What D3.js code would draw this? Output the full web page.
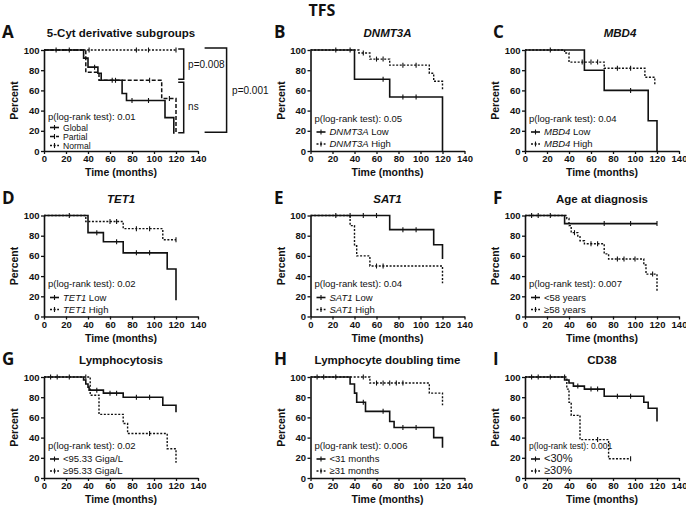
<!DOCTYPE html>
<html><head><meta charset="utf-8">
<script src="https://cdn.jsdelivr.net/npm/d3@7"></script>
<style>
body{margin:0;background:#fff}
text{font-family:"Liberation Sans",Arial,sans-serif;fill:#111}
</style>
</head><body>
<svg id="chart" width="686" height="507"></svg>
<script>
// ---------- DATA ----------
const xTicks = [0,20,40,60,80,100,120,140];
const yTicks = [0,20,40,60,80,100];
const panelLetters = ["A","B","C","D","E","F","G","H","I"];
const panelTitles = ["5-Cyt derivative subgroups","DNMT3A","MBD4","TET1","SAT1","Age at diagnosis","Lymphocytosis","Lymphocyte doubling time","CD38"];
const titleItalic = [false,true,true,true,true,false,false,false,false];
const pValues = ["0.01","0.05","0.04","0.02","0.04","0.007","0.02","0.006","0.001"];
const legendA = [["","Global"],["","Partial"],["","Normal"]];
const legendB = [["DNMT3A"," Low"],["DNMT3A"," High"]];
const legendC = [["MBD4"," Low"],["MBD4"," High"]];
const legendD = [["TET1"," Low"],["TET1"," High"]];
const legendE = [["SAT1"," Low"],["SAT1"," High"]];
const legendF = [["","<58 years"],["","\u226558 years"]];
const legendG = [["","<95.33 Giga/L"],["","\u226595.33 Giga/L"]];
const legendH = [["","<31 months"],["","\u226531 months"]];
const legendI = [["","<30%"],["","\u226530%"]];

// Kaplan-Meier steps: [time (months), percent]; censor times
const aGlobal = [[0,100],[36,92],[40,83],[49,77],[52,70],[71,57],[75,50],[110,33],[118,17]];
const aGlobalCens = [46,62,80,95];
const aPartial = [[0,100],[38,78],[50,70],[107,52],[120,17]];
const aPartialCens = [65,96,114];
const aNormal = [[0,100],[120,100]];
const aNormalCens = [11,23,41,84,95,120];

const bLow = [[0,100],[40,71],[72,53.5],[120,0]];
const bLowCens = [23,36,66,84,96];
const bHigh = [[0,100],[44,97],[54,91],[72,85],[108,77],[112,69],[120,61]];
const bHighCens = [48,60,66,84,96];

const cLow = [[0,100],[54,80],[72,60],[112,30],[120,0]];
const cLowCens = [23,96];
const cHigh = [[0,100],[36,97],[40,88],[72,82],[109,73],[118,66]];
const cHighCens = [52,60,66,84,96];

const dLow = [[0,100],[40,83],[54,74],[72,63],[112,47],[120,16]];
const dLowCens = [23,48,66,84,96];
const dHigh = [[0,100],[38,94],[72,87],[108,76],[120,76]];
const dHighCens = [60,66,84,96,120];

const eLow = [[0,100],[72,86],[112,71],[120,57]];
const eLowCens = [23,36,48,60,84,96];
const eHigh = [[0,100],[36,90],[40,70],[42,60],[54,50],[120,33]];
const eHighCens = [60,66];

const fYoung = [[0,100],[36,92],[120,92]];
const fYoungCens = [6,12,23,72,96,120];
const fOld = [[0,100],[38,97],[40,90],[42,83],[48,79],[50,75],[54,72],[72,62],[76,57],[108,51],[110,42],[120,25]];
const fOldCens = [45,60,66,84,90,100,116];

const gLow = [[0,100],[36,97],[38,93],[40,90],[41,87],[54,84],[72,80],[108,72],[120,65]];
const gLowCens = [6,12,23,48,60,66,84,96];
const gHigh = [[0,100],[42,82],[50,63],[72,54],[76,44],[112,29],[120,15]];
const gHighCens = [38,96];

const hShort = [[0,100],[36,93],[40,84],[42,75],[50,66],[72,56],[76,50],[112,40],[120,30]];
const hShortCens = [6,12,23,48,66,84,96];
const hLong = [[0,100],[54,94],[108,84],[120,72]];
const hLongCens = [48,60,66,72,78,84];

const iLow = [[0,100],[36,97],[40,94],[44,91],[54,88],[72,81],[108,75],[112,69],[120,56]];
const iLowCens = [6,12,23,48,60,66,84,96];
const iHigh = [[0,100],[38,88],[40,75],[42,62],[50,38],[76,19],[96,19]];
const iHighCens = [36,66,96];

// ---------- BUILD ----------
const SOLID = {dash:null,w:1.6}, DOT = {dash:"2,1.6",w:1.4}, DASH = {dash:"4,2",w:1.5};
const panels = [
  {series:[[aGlobal,aGlobalCens,SOLID],[aPartial,aPartialCens,DASH],[aNormal,aNormalCens,DOT]],legend:legendA},
  {series:[[bLow,bLowCens,SOLID],[bHigh,bHighCens,DOT]],legend:legendB},
  {series:[[cLow,cLowCens,SOLID],[cHigh,cHighCens,DOT]],legend:legendC},
  {series:[[dLow,dLowCens,SOLID],[dHigh,dHighCens,DOT]],legend:legendD},
  {series:[[eLow,eLowCens,SOLID],[eHigh,eHighCens,DOT]],legend:legendE},
  {series:[[fYoung,fYoungCens,SOLID],[fOld,fOldCens,DOT]],legend:legendF},
  {series:[[gLow,gLowCens,SOLID],[gHigh,gHighCens,DOT]],legend:legendG},
  {series:[[hShort,hShortCens,SOLID],[hLong,hLongCens,DOT]],legend:legendH},
  {series:[[iLow,iLowCens,SOLID],[iHigh,iHighCens,DOT]],legend:legendI}
];

const svg = d3.select("#chart");
const colX = [44,310.5,525];
const rowY = [50,215.5,377];
const letterX = [2,274,493];
const W = 154, H = 101;
const INK = "#111";

svg.append("text").attr("x",322).attr("y",16).attr("text-anchor","middle")
  .style("font-family","'Open Sans',Arial,sans-serif").style("font-weight","bold").style("font-size","16px").text("TFS");

function valAt(pts,t){let v=pts[0][1];for(const p of pts){if(p[0]<=t)v=p[1];}return v;}

panels.forEach((p,i)=>{
  const col=i%3,row=Math.floor(i/3);
  const x0=colX[col],ty=rowY[row];
  const x=d3.scaleLinear().domain([0,140]).range([x0,x0+W]);
  const y=d3.scaleLinear().domain([0,100]).range([ty+H,ty]);
  const g=svg.append("g");

  g.append("text").attr("x",letterX[col]).attr("y",ty-12).style("font-family","'Open Sans',Arial,sans-serif")
    .style("font-weight","bold").style("font-size","17px").text(panelLetters[i]);
  const tcx = i===2 ? x0+95 : x0+W/2;
  g.append("text").attr("x",tcx).attr("y",ty-13).attr("text-anchor","middle")
    .style("font-weight","bold").style("font-size","11.5px").style("font-style",titleItalic[i]?"italic":"normal")
    .text(panelTitles[i]);

  const ya=g.append("g").attr("transform",`translate(${x0},0)`)
    .call(d3.axisLeft(y).tickValues(yTicks).tickSize(3).tickSizeOuter(0).tickPadding(1.5));
  const xa=g.append("g").attr("transform",`translate(0,${ty+H})`)
    .call(d3.axisBottom(x).tickValues(xTicks).tickSize(3).tickSizeOuter(0).tickPadding(1.5));
  [ya,xa].forEach(a=>{
    a.select(".domain").attr("stroke",INK).attr("stroke-width",1.6);
    a.selectAll(".tick line").attr("stroke",INK).attr("stroke-width",1.3);
    a.selectAll(".tick text").style("font-weight","bold").style("font-size","9.5px").style("font-family","'Liberation Sans',Arial,sans-serif").attr("fill",INK);
  });
  g.append("text").attr("transform",`translate(${x0-26},${ty+H/2}) rotate(-90)`).attr("text-anchor","middle")
    .style("font-weight","bold").style("font-size","10.5px").text("Percent");
  g.append("text").attr("x",x0+W/2).attr("y",ty+H+25).attr("text-anchor","middle")
    .style("font-weight","bold").style("font-size","10.5px").text("Time (months)");

  const line=d3.line().x(d=>x(d[0])).y(d=>y(d[1])).curve(d3.curveStepAfter);
  p.series.slice().reverse().forEach(([pts,cens,st])=>{
    g.append("path").attr("d",line(pts)).attr("fill","none").attr("stroke",INK)
      .attr("stroke-width",st.w).attr("stroke-dasharray",st.dash);
    g.selectAll(null).data(cens).enter().append("line")
      .attr("x1",d=>x(d)).attr("x2",d=>x(d))
      .attr("y1",d=>y(valAt(pts,d))-2.5).attr("y2",d=>y(valAt(pts,d))+2.5)
      .attr("stroke",INK).attr("stroke-width",1.1);
  });

  const n=p.legend.length;
  const pc = ty + (n===3?66:68);
  g.append("text").attr("x",x0+4).attr("y",pc+3.5).style("font-size",i===8?"8.5px":"9.5px")
    .text("p(log-rank test): "+pValues[i]);
  const rows = n===3 ? [77.5,86.5,95.5] : [82,94];
  const lfs = n===3 ? "8.6px" : (i===8 ? "11px" : "9.5px");
  p.legend.forEach((lab,k)=>{
    const cy=ty+rows[k], st=p.series[k][2];
    g.append("line").attr("x1",x0+6).attr("x2",x0+15).attr("y1",cy).attr("y2",cy)
      .attr("stroke",INK).attr("stroke-width",st.w).attr("stroke-dasharray",st.dash);
    g.append("line").attr("x1",x0+10.5).attr("x2",x0+10.5).attr("y1",cy-2.5).attr("y2",cy+2.5)
      .attr("stroke",INK).attr("stroke-width",1.1);
    const t=g.append("text").attr("x",x0+19).attr("y",cy+3.2).style("font-size",lfs);
    if(lab[0]) t.append("tspan").style("font-style","italic").text(lab[0]);
    t.append("tspan").text(lab[1]);
  });

  if(i===0){
    const br=g.append("g").attr("fill","none").attr("stroke",INK).attr("stroke-width",1.5);
    br.append("path").attr("d",`M${x(122)},${y(101)} H${x(127)} V${y(71)} H${x(122)}`);
    br.append("path").attr("d",`M${x(122)},${y(68)} H${x(127)} V${y(18)} H${x(122)}`);
    br.append("path").attr("d",`M${x(146)},${y(102)} H${x(166)} V${y(18.5)} H${x(146)}`);
    g.append("text").attr("x",x(131)).attr("y",y(86)+3.5).style("font-size","10px").text("p=0.008");
    g.append("text").attr("x",x(131)).attr("y",y(44)+3.5).style("font-size","10px").text("ns");
    g.append("text").attr("x",x(171)).attr("y",y(60)+3.5).style("font-size","10px").text("p=0.001");
  }
});
</script>
</body></html>
